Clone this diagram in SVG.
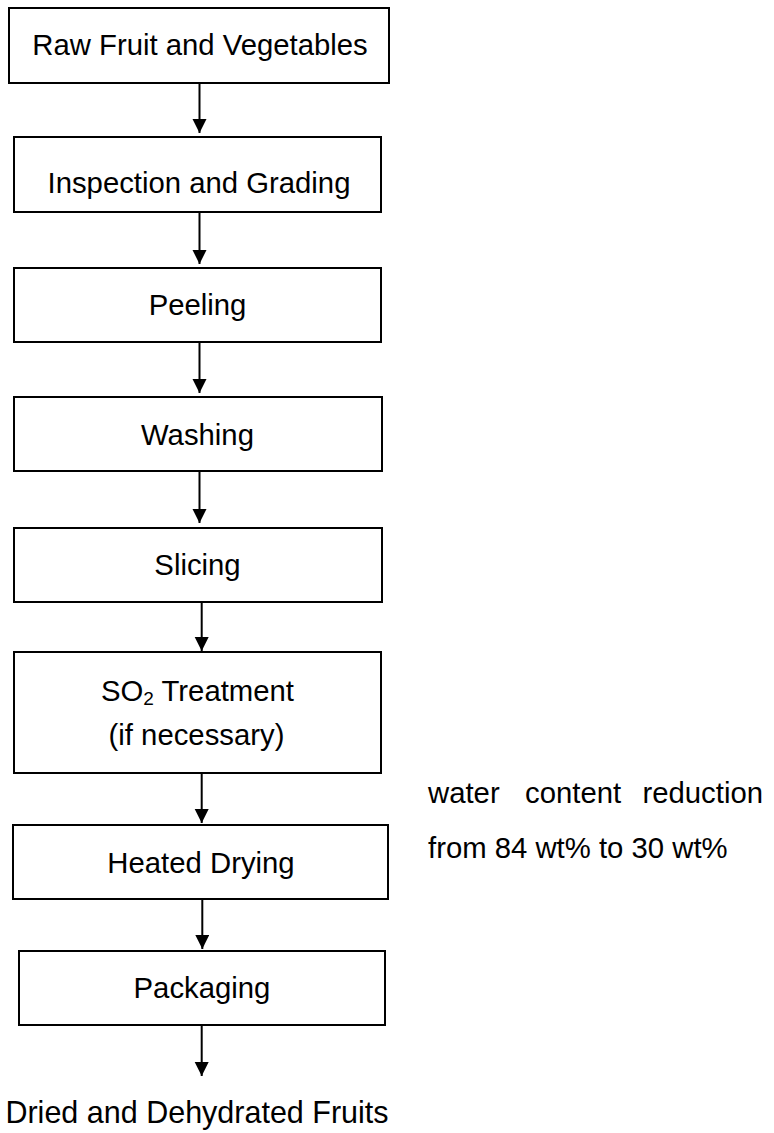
<svg xmlns="http://www.w3.org/2000/svg" width="774" height="1133" viewBox="0 0 774 1133">
<style>
.box{fill:#fff;stroke:#000;stroke-width:2}
.t{font-family:"Liberation Sans",Arial,sans-serif;font-size:29.3px;fill:#000;text-anchor:middle}
.s{font-family:"Liberation Sans",Arial,sans-serif;font-size:29.3px;fill:#000}
.c{stroke:#000;stroke-width:2;fill:none;marker-end:url(#ah)}
</style>
<defs>
<marker id="ah" markerUnits="userSpaceOnUse" markerWidth="14" markerHeight="15" refX="14" refY="7" orient="auto" viewBox="0 0 14 15">
<path d="M0,0 L14,7 L0,14 Z" fill="#000"/>
</marker>
</defs>
<rect width="774" height="1133" fill="#fff"/>
<g id="connectors">
<line class="c" x1="199.5" y1="83" x2="199.5" y2="133"/>
<line class="c" x1="199.5" y1="212" x2="199.5" y2="264"/>
<line class="c" x1="199.5" y1="342" x2="199.5" y2="393"/>
<line class="c" x1="199.5" y1="471" x2="199.5" y2="523"/>
<line class="c" x1="201.7" y1="602" x2="201.7" y2="651"/>
<line class="c" x1="201.7" y1="773" x2="201.7" y2="823"/>
<line class="c" x1="202.3" y1="899" x2="202.3" y2="949"/>
<line class="c" x1="201.7" y1="1025" x2="201.7" y2="1076"/>
</g>
<g id="raw"><rect class="box" x="9" y="8" width="380" height="75"/><text class="t" x="200" y="55">Raw Fruit and Vegetables</text></g>
<g id="inspection"><rect class="box" x="14" y="137" width="367" height="75"/><text class="t" x="199" y="193">Inspection and Grading</text></g>
<g id="peeling"><rect class="box" x="14" y="268" width="367" height="74"/><text class="t" x="197.5" y="315">Peeling</text></g>
<g id="washing"><rect class="box" x="14" y="397" width="368" height="74"/><text class="t" x="197.5" y="445">Washing</text></g>
<g id="slicing"><rect class="box" x="14" y="528" width="368" height="74"/><text class="t" x="197.5" y="575">Slicing</text></g>
<g id="so2"><rect class="box" x="14" y="652" width="367" height="121"/><text class="t" x="197.5" y="701">SO<tspan font-size="19" dy="4">2</tspan><tspan dy="-4"> Treatment</tspan></text><text class="t" x="196.5" y="745">(if necessary)</text></g>
<g id="drying"><rect class="box" x="13" y="825" width="375" height="74"/><text class="t" x="201" y="873">Heated Drying</text></g>
<g id="packaging"><rect class="box" x="19" y="951" width="366" height="74"/><text class="t" x="202" y="998">Packaging</text></g>
<g id="product"><text class="t" x="197" y="1123" style="font-size:30.5px">Dried and Dehydrated Fruits</text></g>
<g id="note">
<text class="s" x="428" y="803">water</text>
<text class="s" x="525" y="803">content</text>
<text class="s" x="763" y="803" text-anchor="end">reduction</text>
<text class="s" x="428" y="858">from 84 wt% to 30 wt%</text>
</g>
</svg>
